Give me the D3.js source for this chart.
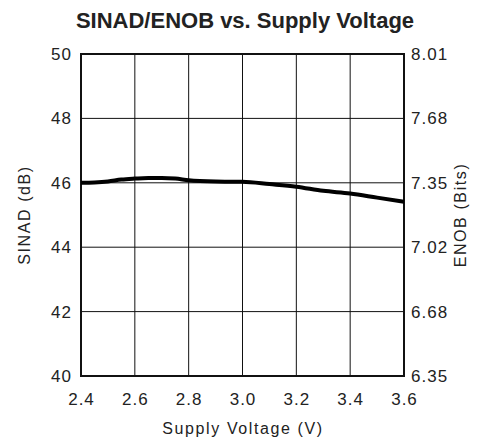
<!DOCTYPE html>
<html>
<head>
<meta charset="utf-8">
<script src="https://cdn.jsdelivr.net/npm/d3@7"></script>
<style>
  body { margin: 0; background: #fff; }
  text { fill: #222; }
</style>
</head>
<body>
<script>
// values
var volts = [2.4, 2.45, 2.5, 2.55, 2.6, 2.65, 2.7, 2.75, 2.8, 2.9, 3.0, 3.1, 3.2, 3.3, 3.4, 3.5, 3.6];
var sinad = [46.0, 46.01, 46.04, 46.1, 46.13, 46.15, 46.15, 46.13, 46.08, 46.04, 46.03, 45.96, 45.88, 45.75, 45.67, 45.54, 45.41];
var xTicks = [2.4, 2.6, 2.8, 3.0, 3.2, 3.4, 3.6];
var sinadTicks = [40, 42, 44, 46, 48, 50];
var enobLabels = ["6.35", "6.68", "7.02", "7.35", "7.68", "8.01"];

var width = 477, height = 441;
var plotL = 81, plotR = 404, plotT = 54, plotB = 376;

var svg = d3.select("body").append("svg")
  .attr("width", width)
  .attr("height", height);

var x = d3.scaleLinear().domain([2.4, 3.6]).range([plotL, plotR]);
var y = d3.scaleLinear().domain([40, 50]).range([plotB, plotT]);

// title
svg.append("text")
  .attr("x", 245).attr("y", 28)
  .attr("text-anchor", "middle")
  .style("font-family", "Liberation Sans, Arial, sans-serif")
  .style("font-weight", "bold")
  .style("font-size", "22px")
  .text("SINAD/ENOB vs. Supply Voltage");

// grid
svg.append("g").selectAll("line").data(xTicks).join("line")
  .attr("x1", d => x(d)).attr("x2", d => x(d))
  .attr("y1", plotT).attr("y2", plotB)
  .attr("stroke", "#111").attr("stroke-width", 1);
svg.append("g").selectAll("line").data(sinadTicks).join("line")
  .attr("x1", plotL).attr("x2", plotR)
  .attr("y1", d => y(d)).attr("y2", d => y(d))
  .attr("stroke", "#111").attr("stroke-width", 1);

// frame
svg.append("rect")
  .attr("x", plotL).attr("y", plotT)
  .attr("width", plotR - plotL).attr("height", plotB - plotT)
  .attr("fill", "none").attr("stroke", "#111").attr("stroke-width", 2);

var labelFont = "Liberation Sans, Arial, sans-serif";

// axes (labels only, lines drawn above)
var xAxis = d3.axisBottom(x).tickValues(xTicks).tickSize(0).tickPadding(17)
  .tickFormat(d3.format(".1f"));
var gx = svg.append("g").attr("transform", "translate(0," + plotB + ")").call(xAxis);

var yAxis = d3.axisLeft(y).tickValues(sinadTicks).tickSize(0).tickPadding(9);
var gy = svg.append("g").attr("transform", "translate(" + plotL + ",0)").call(yAxis);

var yAxisR = d3.axisRight(y).tickValues(sinadTicks).tickSize(0).tickPadding(7)
  .tickFormat((d, i) => enobLabels[i]);
var gyr = svg.append("g").attr("transform", "translate(" + plotR + ",0)").call(yAxisR);

[gx, gy, gyr].forEach(function(g) {
  g.select(".domain").remove();
  g.selectAll("text")
    .style("font-family", labelFont)
    .style("font-size", "17px")
    .style("letter-spacing", "1px")
    .attr("fill", "#222");
});

// axis titles
svg.append("text")
  .attr("x", 243).attr("y", 434)
  .attr("text-anchor", "middle")
  .style("font-family", labelFont)
  .style("font-size", "16px")
  .style("letter-spacing", "1.6px")
  .text("Supply Voltage (V)");

svg.append("text")
  .attr("transform", "translate(30,215) rotate(-90)")
  .attr("text-anchor", "middle")
  .style("font-family", labelFont)
  .style("font-size", "16px")
  .style("letter-spacing", "1.6px")
  .text("SINAD (dB)");

svg.append("text")
  .attr("transform", "translate(466,215) rotate(-90)")
  .attr("text-anchor", "middle")
  .style("font-family", labelFont)
  .style("font-size", "16px")
  .style("letter-spacing", "1.6px")
  .text("ENOB (Bits)");

// curve
var line = d3.line()
  .x((d, i) => x(volts[i]))
  .y(d => y(d))
  .curve(d3.curveMonotoneX);

svg.append("path")
  .datum(sinad)
  .attr("d", line)
  .attr("fill", "none")
  .attr("stroke", "#000")
  .attr("stroke-width", 4);
</script>
</body>
</html>
